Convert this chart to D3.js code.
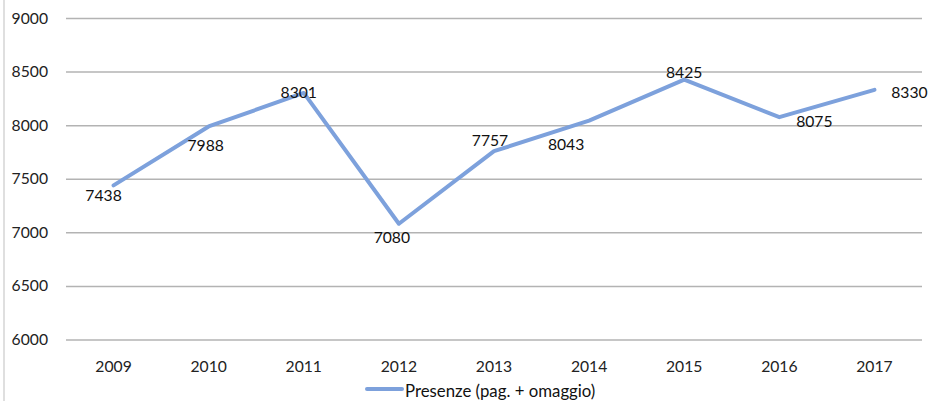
<!DOCTYPE html>
<html><head><meta charset="utf-8">
<script src="https://cdn.jsdelivr.net/npm/d3@7"></script>
<style>
html,body{margin:0;padding:0;background:#fff;}
svg{display:block;font-family:Lato,"Open Sans",sans-serif;}
</style></head>
<body>
<svg id="chart" width="931" height="401"></svg>
<script>
const years = ["2009","2010","2011","2012","2013","2014","2015","2016","2017"];
const presenze = [7438, 7988, 8301, 7080, 7757, 8043, 8425, 8075, 8330];
const yTicks = [6000, 6500, 7000, 7500, 8000, 8500, 9000];
const seriesName = "Presenze (pag. + omaggio)";
// label placement offsets (layout, relative to each point)
const labelDx = [-10, -3, -5, -7, -4, -23, 0, 35, 35];
const labelDy = [10, 19, -1, 13, -11, 23, -8, 4, 2];

const svg = d3.select("#chart");
const fontSize = 15.7;
const lineColor = "#7da1dc";

const x = d3.scaleBand().domain(years).range([66, 922]).padding(0);
const y = d3.scaleLinear().domain([6000, 9000]).range([339.5, 18]);

// outer border on the left
svg.append("line").attr("x1", 4).attr("x2", 4).attr("y1", 0).attr("y2", 401)
  .attr("stroke", "#d4d4d4").attr("stroke-width", 1.5);

// gridlines + y axis labels
const yAxis = d3.axisLeft(y).tickValues(yTicks).tickSize(-(922 - 66)).tickPadding(18).tickFormat(d3.format("d"));
const gy = svg.append("g").attr("transform", "translate(66,0)").call(yAxis);
gy.select(".domain").remove();
gy.selectAll(".tick line").attr("stroke", "#b3b3b3").attr("stroke-width", 1.5);
gy.selectAll(".tick text").attr("font-size", fontSize).attr("fill", "#222").attr("font-family", "Lato,'Open Sans',sans-serif");

// x axis labels
const xAxis = d3.axisBottom(x).tickSize(0).tickPadding(0);
const gx = svg.append("g").attr("transform", "translate(0,366)").call(xAxis);
gx.select(".domain").remove();
gx.selectAll(".tick text").attr("font-size", fontSize).attr("fill", "#222")
  .attr("dy", null).attr("dominant-baseline", "central").attr("font-family", "Lato,'Open Sans',sans-serif");

// line
const line = d3.line().x((d, i) => x(years[i]) + x.bandwidth() / 2).y(d => y(d));
svg.append("path").datum(presenze).attr("d", line)
  .attr("fill", "none").attr("stroke", lineColor).attr("stroke-width", 4)
  .attr("stroke-linejoin", "round").attr("stroke-linecap", "round");

// data labels
svg.append("g").selectAll("text").data(presenze).join("text")
  .attr("x", (d, i) => x(years[i]) + x.bandwidth() / 2 + labelDx[i])
  .attr("y", (d, i) => y(d) + labelDy[i])
  .attr("text-anchor", "middle").attr("dominant-baseline", "central")
  .attr("font-size", fontSize).attr("fill", "#111")
  .text(d => d);

// legend
const lg = svg.append("g").attr("transform", "translate(367,389)");
lg.append("line").attr("x1", 0).attr("x2", 35).attr("y1", 0).attr("y2", 0)
  .attr("stroke", lineColor).attr("stroke-width", 4).attr("stroke-linecap", "round");
lg.append("text").attr("x", 38).attr("y", 1).attr("dominant-baseline", "central")
  .attr("font-size", 16.8).attr("fill", "#111").text(seriesName);
</script>
</body></html>
